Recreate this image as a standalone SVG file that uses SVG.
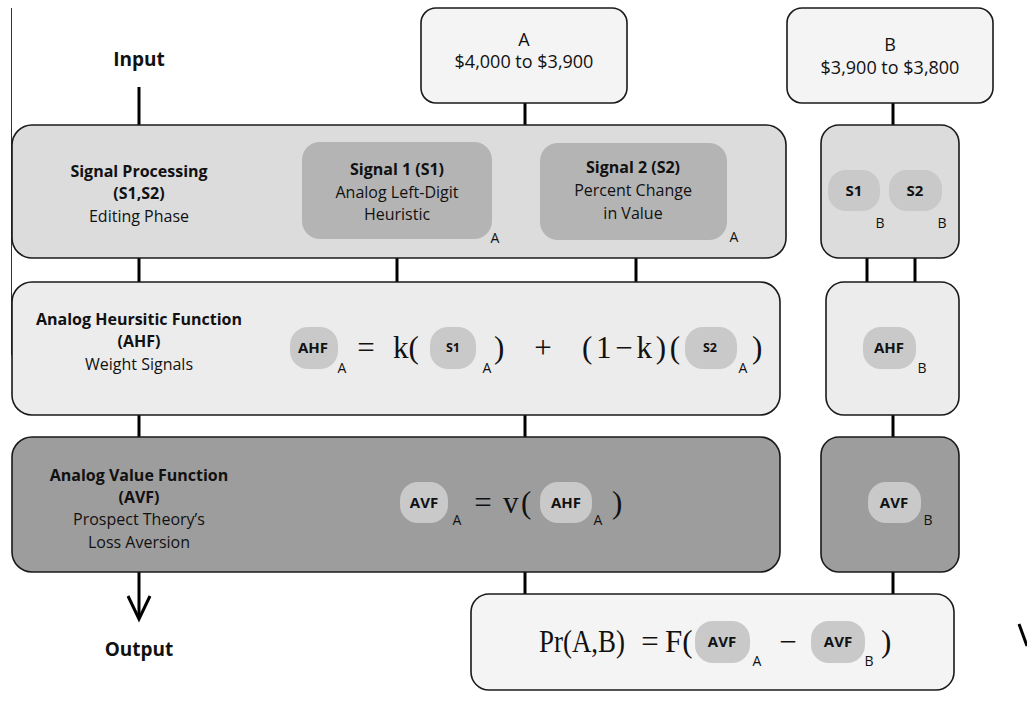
<svg xmlns="http://www.w3.org/2000/svg" width="1027" height="703" viewBox="0 0 1027 703">
<style>
  .conn{stroke:#000;stroke-width:3;fill:none}
  .box{stroke:#1a1a1a;stroke-width:1.6}
  .light{fill:#f4f4f4}
  .sp{fill:#dcdcdc}
  .ahf{fill:#ececec}
  .avf{fill:#9d9d9d}
  .inner{fill:#b4b4b4}
  .pill{fill:#c9c9c9}
  text{font-family:"Open Sans","Noto Sans",sans-serif;fill:#111}
  .c{text-anchor:middle}
  .b{font-weight:700}
  .lbl{font-size:16px}
  .io{font-size:19px;font-weight:700}
  .val{font-size:18px}
  .pl{font-size:15px;font-weight:700}
  .ps{font-size:12.5px;font-weight:700}
  .sub{font-size:14px}
  .m{font-family:"Liberation Serif","Times New Roman",serif;font-size:31px}
</style>
<rect width="1027" height="703" fill="#fff"/>
<line x1="11.5" y1="8" x2="11.5" y2="355" stroke="#333" stroke-width="1"/>

<g id="connectors">
  <line class="conn" x1="139" y1="87" x2="139" y2="125"/>
  <line class="conn" x1="525" y1="103" x2="525" y2="125"/>
  <line class="conn" x1="893" y1="103" x2="893" y2="125"/>
  <line class="conn" x1="139" y1="258" x2="139" y2="282"/>
  <line class="conn" x1="397" y1="258" x2="397" y2="282"/>
  <line class="conn" x1="636" y1="258" x2="636" y2="282"/>
  <line class="conn" x1="867" y1="258" x2="867" y2="282"/>
  <line class="conn" x1="915" y1="258" x2="915" y2="282"/>
  <line class="conn" x1="139" y1="415" x2="139" y2="437"/>
  <line class="conn" x1="525" y1="415" x2="525" y2="437"/>
  <line class="conn" x1="893" y1="415" x2="893" y2="437"/>
  <line class="conn" x1="525" y1="572" x2="525" y2="594"/>
  <line class="conn" x1="893" y1="572" x2="893" y2="594"/>
  <line class="conn" x1="139" y1="572" x2="139" y2="618"/>
  <polyline class="conn" points="128,596 139,619 150,596"/>
  <line class="conn" x1="1019" y1="624" x2="1027" y2="646"/>
</g>

<g id="input"><text class="io c" x="139" y="66">Input</text></g>
<g id="output"><text class="io c" x="139" y="656">Output</text></g>

<g id="boxA">
  <rect class="box light" x="421" y="8" width="206" height="95" rx="15"/>
  <text class="val c" x="524" y="46">A</text>
  <text class="val c" x="524" y="68">$4,000 to $3,900</text>
</g>
<g id="boxB">
  <rect class="box light" x="787" y="8" width="206" height="95" rx="15"/>
  <text class="val c" x="890" y="51">B</text>
  <text class="val c" x="890" y="74">$3,900 to $3,800</text>
</g>

<g id="signal-processing">
  <rect class="box sp" x="12" y="125" width="774" height="133" rx="20"/>
  <text class="lbl b c" x="139" y="177">Signal Processing</text>
  <text class="lbl b c" x="139" y="199">(S1,S2)</text>
  <text class="lbl c" x="139" y="222">Editing Phase</text>
</g>
<g id="signal1">
  <rect class="inner" x="302" y="142" width="190" height="97" rx="18"/>
  <text class="lbl b c" x="397" y="175">Signal 1 (S1)</text>
  <text class="lbl c" x="397" y="198">Analog Left-Digit</text>
  <text class="lbl c" x="397" y="220">Heuristic</text>
  <text class="sub c" x="495" y="243">A</text>
</g>
<g id="signal2">
  <rect class="inner" x="540" y="143" width="187" height="97" rx="18"/>
  <text class="lbl b c" x="633" y="173">Signal 2 (S2)</text>
  <text class="lbl c" x="633" y="196">Percent Change</text>
  <text class="lbl c" x="633" y="219">in Value</text>
  <text class="sub c" x="734" y="242">A</text>
</g>
<g id="signal-processing-B">
  <rect class="box sp" x="821" y="125" width="138" height="133" rx="18"/>
  <rect class="pill" x="828" y="170" width="52" height="41" rx="18"/>
  <text class="pl c" x="854" y="196">S1</text>
  <text class="sub c" x="880" y="228">B</text>
  <rect class="pill" x="889" y="170" width="53" height="41" rx="18"/>
  <text class="pl c" x="915" y="196">S2</text>
  <text class="sub c" x="942" y="228">B</text>
</g>

<g id="ahf">
  <rect class="box ahf" x="12" y="282" width="768" height="133" rx="20"/>
  <text class="lbl b c" x="139" y="325">Analog Heursitic Function</text>
  <text class="lbl b c" x="139" y="347">(AHF)</text>
  <text class="lbl c" x="139" y="370">Weight Signals</text>
  <rect class="pill" x="290" y="327" width="48" height="42" rx="18"/>
  <text class="pl c" x="313" y="353">AHF</text>
  <text class="sub c" x="342" y="373">A</text>
  <text class="m c" x="366" y="358">=</text>
  <text class="m" x="393" y="358">k(</text>
  <rect class="pill" x="430" y="327" width="46" height="42" rx="18"/>
  <text class="ps c" x="453" y="352">S1</text>
  <text class="sub c" x="487" y="373">A</text>
  <text class="m" x="494" y="358">)</text>
  <text class="m c" x="543" y="358">+</text>
  <text class="m" x="582" y="358" textLength="98" lengthAdjust="spacing">(1−k)(</text>
  <rect class="pill" x="685" y="327" width="52" height="42" rx="18"/>
  <text class="ps c" x="710" y="352">S2</text>
  <text class="sub c" x="743" y="373">A</text>
  <text class="m" x="752" y="358">)</text>
</g>
<g id="ahf-B">
  <rect class="box ahf" x="826" y="282" width="133" height="133" rx="18"/>
  <rect class="pill" x="863" y="327" width="53" height="42" rx="18"/>
  <text class="pl c" x="889" y="353">AHF</text>
  <text class="sub c" x="922" y="373">B</text>
</g>

<g id="avf">
  <rect class="box avf" x="12" y="437" width="768" height="135" rx="20"/>
  <text class="lbl b c" x="139" y="481">Analog Value Function</text>
  <text class="lbl b c" x="139" y="503">(AVF)</text>
  <text class="lbl c" x="139" y="525">Prospect Theory’s</text>
  <text class="lbl c" x="139" y="548">Loss Aversion</text>
  <rect class="pill" x="400" y="482" width="48" height="41" rx="18"/>
  <text class="pl c" x="424" y="508">AVF</text>
  <text class="sub c" x="457" y="525">A</text>
  <text class="m c" x="483" y="513">=</text>
  <text class="m" x="503" y="513">v</text>
  <text class="m" x="521" y="513">(</text>
  <rect class="pill" x="540" y="482" width="52" height="41" rx="18"/>
  <text class="pl c" x="566" y="508">AHF</text>
  <text class="sub c" x="598" y="525">A</text>
  <text class="m" x="612" y="513">)</text>
</g>
<g id="avf-B">
  <rect class="box avf" x="821" y="437" width="138" height="135" rx="18"/>
  <rect class="pill" x="868" y="482" width="53" height="41" rx="18"/>
  <text class="pl c" x="894" y="508">AVF</text>
  <text class="sub c" x="928" y="525">B</text>
</g>

<g id="probability">
  <rect class="box light" x="471" y="594" width="483" height="96" rx="18"/>
  <text class="m" x="539" y="652" textLength="86" lengthAdjust="spacingAndGlyphs">Pr(A,B)</text>
  <text class="m c" x="650" y="652">=</text>
  <text class="m" x="665" y="652">F(</text>
  <rect class="pill" x="695" y="621" width="55" height="42" rx="18"/>
  <text class="pl c" x="722" y="647">AVF</text>
  <text class="sub c" x="757" y="666">A</text>
  <text class="m c" x="788" y="652">−</text>
  <rect class="pill" x="811" y="621" width="54" height="42" rx="18"/>
  <text class="pl c" x="838" y="647">AVF</text>
  <text class="sub c" x="869" y="666">B</text>
  <text class="m" x="881" y="652">)</text>
</g>
</svg>
